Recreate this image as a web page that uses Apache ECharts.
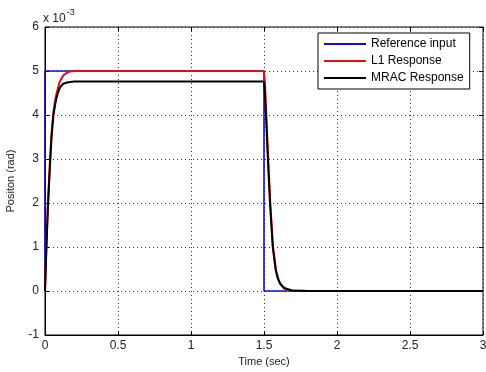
<!DOCTYPE html>
<html><head><meta charset="utf-8">
<script src="https://cdn.jsdelivr.net/npm/echarts@6/dist/echarts.min.js"></script>
<style>html,body{margin:0;padding:0;background:#fff}#c{width:486px;height:372px}</style>
</head><body><div id="c"></div>
<script>
// values in units of 1e-3 rad
const refT = [0, 0, 1.5, 1.5, 3];
const refY = [0, 5, 5, 0, 0];
const l1T = [0, 0.005, 0.01, 0.02, 0.034, 0.045, 0.057, 0.07, 0.08, 0.1, 0.125, 0.15, 0.17, 0.2, 1.5, 1.507, 1.516, 1.529, 1.543, 1.562, 1.582, 1.6, 1.615, 1.64, 1.66, 1.7, 1.8, 3];
const l1Y = [0, 0.6, 1.1, 2.0, 2.98, 3.6, 4.05, 4.35, 4.5, 4.75, 4.9, 4.96, 4.99, 5.0, 5.0, 4.7, 3.96, 2.98, 2.0, 1.0, 0.48, 0.25, 0.14, 0.05, 0.02, 0.01, 0.0, 0.0];
const mracT = [0, 0.005, 0.01, 0.02, 0.034, 0.045, 0.058, 0.07, 0.08, 0.09, 0.103, 0.125, 0.15, 0.2, 1.5, 1.506, 1.514, 1.527, 1.541, 1.56, 1.58, 1.595, 1.61, 1.635, 1.655, 1.69, 1.8, 3];
const mracY = [0, 0.5, 1.0, 1.9, 2.85, 3.5, 4.0, 4.25, 4.4, 4.52, 4.63, 4.71, 4.74, 4.76, 4.76, 4.5, 3.96, 2.98, 2.0, 1.0, 0.48, 0.28, 0.17, 0.08, 0.05, 0.01, 0.0, 0.0];
const xTicks = [0, 0.5, 1, 1.5, 2, 2.5, 3];
const yTicks = [-1, 0, 1, 2, 3, 4, 5, 6];
const names = ['Reference input', 'L1 Response', 'MRAC Response'];

const pairs = (t, y) => t.map((v, i) => [v, y[i]]);
const font = 'Liberation Sans, Arial, sans-serif';
const chart = echarts.init(document.getElementById('c'));
const splitDot = {show: true, lineStyle: {color: '#333', type: [1, 3], width: 1}};
chart.setOption({
  animation: false,
  backgroundColor: '#fff',
  grid: {left: 45, right: 3, top: 27, bottom: 37, show: true, borderColor: '#000', borderWidth: 1, containLabel: false, outerBoundsMode: 'none'},
  xAxis: [{
    type: 'value', min: xTicks[0], max: xTicks[xTicks.length - 1], interval: 0.5,
    axisLine: {show: true, onZero: false, lineStyle: {color: '#000'}},
    axisTick: {inside: true, length: 4, lineStyle: {color: '#000'}},
    axisLabel: {color: '#222', fontFamily: font, fontSize: 12, margin: 5},
    splitLine: splitDot,
    name: 'Time (sec)', nameLocation: 'middle', nameGap: 19,
    nameTextStyle: {color: '#222', fontFamily: font, fontSize: 11}
  }, {
    type: 'value', position: 'top', min: 0, max: 3, interval: 0.5,
    axisLine: {show: false, onZero: false}, axisTick: {inside: true, length: 4, lineStyle: {color: '#000'}},
    axisLabel: {show: false}, splitLine: {show: false}
  }],
  yAxis: [{
    type: 'value', min: yTicks[0], max: yTicks[yTicks.length - 1], interval: 1,
    axisLine: {show: true, onZero: false, lineStyle: {color: '#000'}},
    axisTick: {show: true, inside: true, length: 4, lineStyle: {color: '#000'}},
    axisLabel: {color: '#222', fontFamily: font, fontSize: 12, margin: 6},
    splitLine: splitDot,
    name: 'Positon (rad)', nameLocation: 'middle', nameGap: 29,
    nameTextStyle: {color: '#222', fontFamily: font, fontSize: 11}
  }, {
    type: 'value', position: 'right', min: -1, max: 6, interval: 1,
    axisLine: {show: false, onZero: false}, axisTick: {show: true, inside: true, length: 4, lineStyle: {color: '#000'}},
    axisLabel: {show: false}, splitLine: {show: false}
  }],
  legend: {
    orient: 'vertical', left: 318, top: 33, width: 155,
    backgroundColor: '#fff', borderColor: '#000', borderWidth: 1, borderRadius: 0,
    padding: [4, 6, 4, 6], itemWidth: 42, itemHeight: 2, itemGap: 3, icon: 'rect',
    textStyle: {color: '#000', fontFamily: font, fontSize: 12, lineHeight: 14},
    data: names
  },
  graphic: [{
    type: 'text', left: 43, top: 8,
    style: {
      text: '{a|x 10}{b|-3}', fill: '#222',
      rich: {a: {fontFamily: font, fontSize: 12, padding: [6, 0, 0, 0]}, b: {fontFamily: font, fontSize: 9, padding: [0, 0, 6, 1]}}
    }
  }],
  series: [
    {name: names[0], type: 'line', data: pairs(refT, refY), symbol: 'none', lineStyle: {color: '#1010c0', width: 1.6}, itemStyle: {color: '#1010c0'}},
    {name: names[1], type: 'line', data: pairs(l1T, l1Y), symbol: 'none', lineStyle: {color: '#e01010', width: 2}, itemStyle: {color: '#e01010'}},
    {name: names[2], type: 'line', data: pairs(mracT, mracY), symbol: 'none', lineStyle: {color: '#000', width: 2}, itemStyle: {color: '#000'}}
  ]
});
</script></body></html>
